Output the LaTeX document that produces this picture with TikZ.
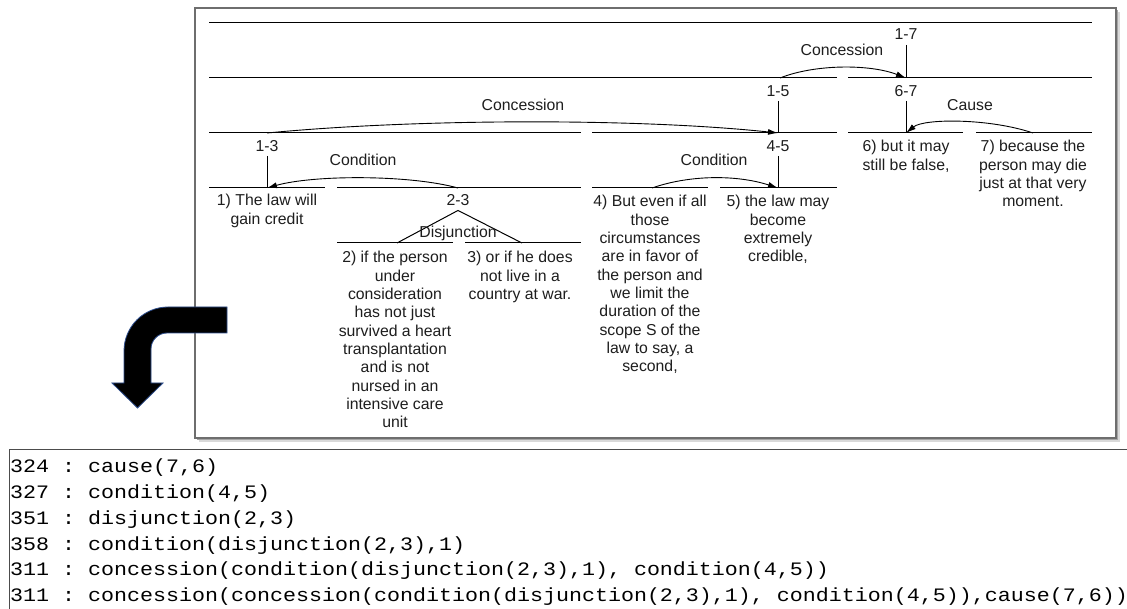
\documentclass[tikz,border=0pt]{standalone}
\usepackage{fontspec}
\setmainfont{Liberation Sans}
\newfontfamily\codefont[FakeStretch=1.14]{Liberation Mono}
\usetikzlibrary{arrows.meta}
\definecolor{txt}{HTML}{1E1E1E}
\definecolor{framegray}{HTML}{6E6E6E}
\definecolor{arrowblue}{HTML}{2F4F8F}
\begin{document}
\begin{tikzpicture}[x=1pt,y=-1pt,
  seg/.style={line width=1pt, black},
  lbl/.style={font=\fontsize{15.8}{18.3}\selectfont, text=txt, inner sep=0pt, align=center},
  one/.style={lbl, anchor=base},
  rel/.style={line width=0.9pt, -{Latex[length=10pt,width=6pt]}},
  vline/.style={line width=1pt},
  code/.style={font=\codefont\fontsize{19}{25.8}\selectfont\frenchspacing, anchor=base west, inner sep=0pt}]

\useasboundingbox (0,0) rectangle (1127,609);
\fill[white] (0,0) rectangle (1127,609);

% frame with shadow
\fill[black!15] (199,12) rectangle (1120,442);
\fill[black!35] (197,10) rectangle (1118,440);
\filldraw[fill=white, draw=framegray, line width=1.2pt] (195,8) rectangle (1116,438);

% level lines
\draw[seg] (209,23) -- (1092,23);
\draw[seg] (209,78) -- (837,78);
\draw[seg] (848,78) -- (1092,78);
\draw[seg] (209,133) -- (581,133);
\draw[seg] (592,133) -- (837,133);
\draw[seg] (848,133) -- (963,133);
\draw[seg] (976,133) -- (1092,133);
\draw[seg] (209,188) -- (325,188);
\draw[seg] (337,188) -- (581,188);
\draw[seg] (592,188) -- (708,188);
\draw[seg] (720,188) -- (837,188);
\draw[seg] (337,243) -- (453,243);
\draw[seg] (465,243) -- (581,243);

% connection points
\coordinate (p17) at (906,78);
\coordinate (s15) at (780,78);
\coordinate (p15) at (778,133);
\coordinate (p67) at (906,133);
\coordinate (s7) at (1033,133);
\coordinate (s13) at (267,133);
\coordinate (p13) at (267,188);
\coordinate (s23) at (458,188);
\coordinate (p45) at (778,188);
\coordinate (s4) at (652,188);
\coordinate (d2) at (397,243);
\coordinate (d3) at (522,243);

% span labels
\node[one] (n17) at (906,39.6) {1-7};
\node[one] (n15) at (778,96.6) {1-5};
\node[one] (n67) at (906,96.6) {6-7};
\node[one] (n13) at (267,151.6) {1-3};
\node[one] (n45) at (778,151.6) {4-5};
\node[one] (n23) at (458,205.6) {2-3};

\draw[vline] ([yshift=-5pt]n17.south) -- (p17);
\draw[vline] ([yshift=-4pt]n15.south) -- (p15);
\draw[vline] ([yshift=-4pt]n67.south) -- (p67);
\draw[vline] ([yshift=-4pt]n13.south) -- (p13);
\draw[vline] ([yshift=-4pt]n45.south) -- (p45);
\draw[vline] (d2) -- ([yshift=-4.5pt]n23.south) -- (d3);

% relation labels
\node[one] (r1) at (842,55.6) {Concession};
\node[one] (r2) at (523,110.6) {Concession};
\node[one] (r3) at (970,110.6) {Cause};
\node[one] (r4) at (363,165.6) {Condition};
\node[one] (r5) at (714,165.6) {Condition};
\node[one] (r6) at (458,237.6) {Disjunction};

% relation arcs
\draw[rel] (s15) .. controls (815,64) and (870,64) .. (p17);
\draw[rel] (s13) .. controls (420,118.3) and (640,118.3) .. (p15);
\draw[rel] (s7) .. controls (990,118.3) and (924,118.3) .. (p67);
\draw[rel] (s23) .. controls (410,174.7) and (314,174.7) .. (p13);
\draw[rel] (s4) .. controls (690,174.7) and (737,174.7) .. (p45);

% EDU texts
\node[lbl, anchor=north] (t1) at (267,194.3) {1) The law will\\gain credit};
\node[lbl, anchor=north] (t2) at (395,251.3) {2) if the person\\under\\consideration\\has not just\\survived a heart\\transplantation\\and is not\\nursed in an\\intensive care\\unit};
\node[lbl, anchor=north] (t3) at (520,251.3) {3) or if he does\\not live in a\\country at war.};
\node[lbl, anchor=north] (t4) at (650,195.3) {4) But even if all\\those\\circumstances\\are in favor of\\the person and\\we limit the\\duration of the\\scope S of the\\law to say, a\\second,};
\node[lbl, anchor=north] (t5) at (778,195.3) {5) the law may\\become\\extremely\\credible,};
\node[lbl, anchor=north] (t6) at (906,140.3) {6) but it may\\still be false,};
\node[lbl, anchor=north] (t7) at (1033,140.3) {7) because the\\person may die\\just at that very\\moment.};

% big bent arrow
\filldraw[fill=black, draw=arrowblue, line width=0.8pt]
  (227,307) -- (168,307) .. controls (143.7,307) and (124,326.7) .. (124,351)
  -- (124,383) -- (112,383) -- (137.5,408) -- (163,383) -- (151,383)
  -- (151,349) .. controls (151,340.2) and (158.2,333) .. (167,333)
  -- (227,333) -- cycle;

% code box
\draw[line width=1pt, black!70] (9,609) -- (9,449) -- (1127,449);
\node[code] (c1) at (10,472.7) {324 : cause(7,6)};
\node[code] (c2) at (10,498.5) {327 : condition(4,5)};
\node[code] (c3) at (10,524.3) {351 : disjunction(2,3)};
\node[code] (c4) at (10,550.1) {358 : condition(disjunction(2,3),1)};
\node[code] (c5) at (10,575.9) {311 : concession(condition(disjunction(2,3),1), condition(4,5))};
\node[code] (c6) at (10,601.7) {311 : concession(concession(condition(disjunction(2,3),1), condition(4,5)),cause(7,6))};
\end{tikzpicture}
\end{document}
